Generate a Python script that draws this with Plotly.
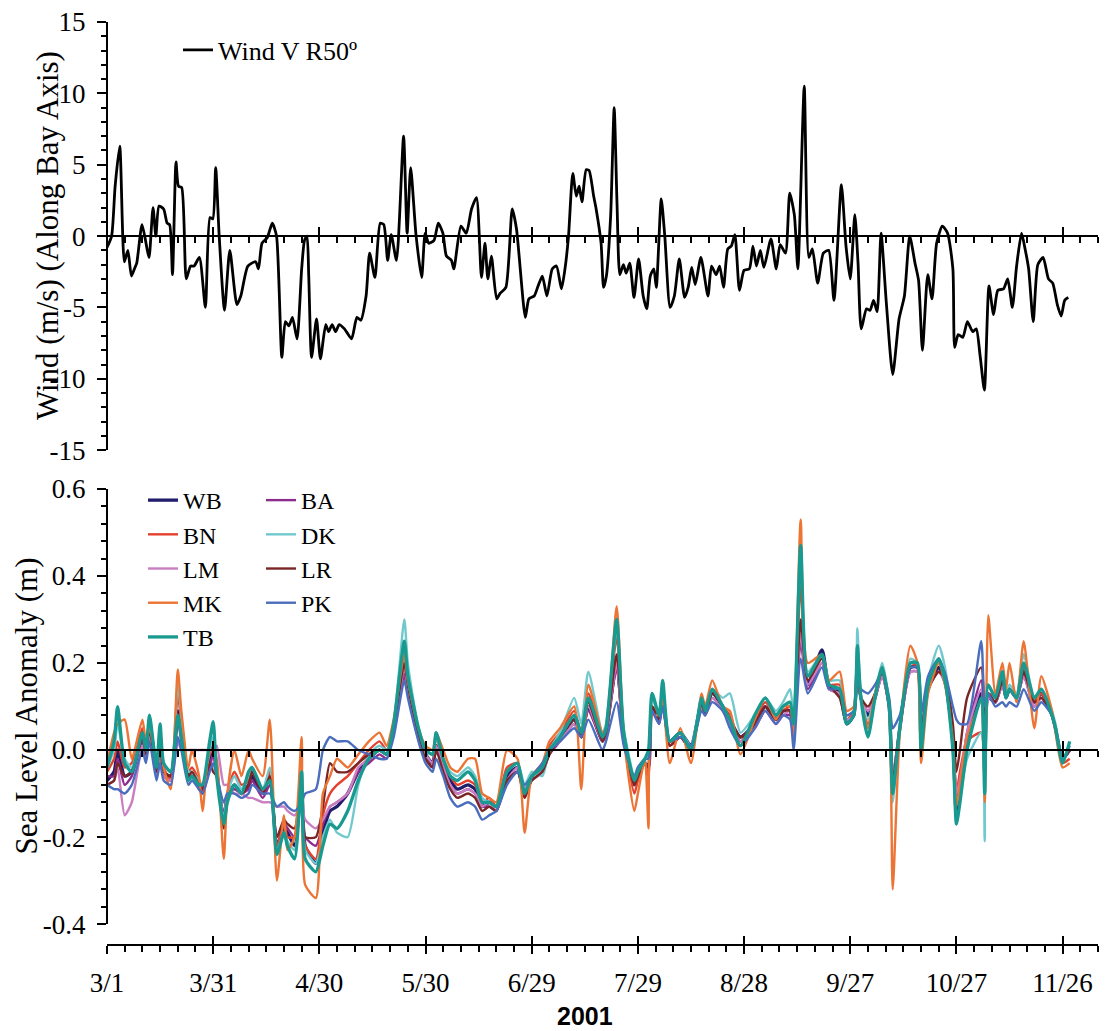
import plotly.graph_objects as go

# Along-bay wind component V rotated 50 deg (m/s): (days since 1 March 2001, value)
wind_points = [
    (0.0, -0.8), (1.3, 0.0), (2.3, 3.5), (3.6, 6.3), (4.9, -1.8), (5.9, -1.0), (6.9, -2.8), (7.9, -2.2),
    (8.4, -1.9), (9.9, 0.8), (11.4, -1.0), (11.9, -1.5), (13.0, 2.0), (13.8, 0.0), (14.7, 2.1), (16.0, 1.9),
    (17.0, 0.9), (17.7, 0.8), (18.5, -2.7), (19.5, 5.2), (20.2, 3.5), (21.1, 3.4), (22.4, -3.0), (23.6, -2.1),
    (24.6, -2.1), (26.1, -1.5), (27.8, -5.0), (29.1, 1.3), (29.9, 1.2), (30.7, 4.8), (31.7, 0.0), (33.2, -5.2),
    (34.7, -1.0), (36.7, -4.8), (37.8, -4.2), (39.8, -2.1), (42.0, -1.8), (42.8, -2.3), (43.8, -0.5), (45.3, -0.1),
    (46.7, 0.9), (47.9, 0.0), (49.4, -8.5), (50.4, -6.0), (51.4, -6.3), (52.4, -5.7), (53.7, -7.2), (55.0, -2.3),
    (55.8, -0.3), (56.5, 0.0), (57.0, -2.8), (57.8, -8.5), (59.2, -5.8), (60.3, -8.6), (61.8, -6.2), (62.6, -6.7),
    (63.6, -6.2), (64.6, -6.7), (65.6, -6.2), (67.1, -6.5), (69.1, -7.2), (70.6, -5.7), (71.7, -5.9), (73.2, -4.2),
    (74.2, -1.2), (75.7, -2.9), (77.2, 0.9), (78.2, 0.8), (79.3, -1.7), (80.3, 0.1), (81.8, -1.7), (83.8, 7.0),
    (84.8, 0.2), (85.8, 4.8), (87.3, 0.1), (88.9, -2.9), (89.9, 0.2), (90.9, -0.5), (92.4, -0.3), (93.6, 0.9),
    (94.9, 0.2), (95.9, -1.4), (97.3, -1.7), (98.0, -2.3), (100.0, 0.7), (101.5, 0.2), (103.0, 1.9), (104.4, 2.7),
    (105.8, -2.9), (106.8, -0.5), (107.6, -3.0), (108.6, -1.4), (110.1, -4.4), (111.1, -4.0), (112.7, -3.6), (114.5, 1.9),
    (115.7, 0.5), (118.2, -5.7), (119.2, -4.4), (120.7, -4.2), (121.8, -3.5), (123.0, -2.8), (124.3, -4.2), (125.8, -2.3),
    (127.0, -2.1), (128.4, -3.7), (129.4, -2.3), (130.4, 0.0), (131.6, 4.4), (132.6, 2.8), (133.4, 3.5), (134.2, 2.4),
    (135.4, 4.65), (136.2, 4.6), (137.5, 2.8), (138.2, 1.9), (139.6, -0.5), (140.3, -3.6), (141.1, -2.8), (142.3, 1.4),
    (143.3, 9.0), (144.1, 2.3), (144.9, -2.7), (145.9, -2.0), (146.7, -2.6), (147.7, -1.9), (148.9, -4.3), (150.2, -1.6),
    (151.5, -4.2), (152.5, -5.1), (153.5, -2.8), (154.5, -2.3), (155.2, -3.6), (156.6, 2.6), (157.6, 0.0), (159.1, -5.0),
    (160.3, -4.2), (161.7, -1.6), (163.2, -4.3), (164.2, -3.6), (165.2, -2.2), (166.2, -3.4), (167.8, -1.5), (169.8, -4.2),
    (170.8, -2.1), (172.1, -2.7), (173.1, -2.1), (174.2, -3.6), (175.4, -0.9), (176.4, -0.7), (177.4, 0.1), (178.7, -3.8),
    (180.0, -2.4), (181.5, -2.3), (182.5, -0.7), (183.5, -2.1), (184.6, -1.0), (185.6, -2.2), (187.6, -0.2), (189.1, -2.3),
    (190.2, -0.6), (191.7, -1.2), (192.9, 3.0), (194.2, 1.5), (195.2, -2.3), (197.0, 10.5), (198.3, -1.5), (199.3, -0.9),
    (200.8, -3.3), (202.4, -1.2), (203.9, -1.0), (205.4, -4.5), (207.5, 3.6), (208.8, -0.7), (210.0, -3.0), (211.3, 1.5),
    (212.2, -1.9), (213.1, -6.5), (214.6, -5.1), (215.6, -5.2), (216.6, -4.5), (217.6, -5.3), (218.7, 0.2), (220.2, -4.7),
    (222.0, -9.7), (223.8, -5.8), (225.3, -4.2), (226.8, 0.0), (228.3, -1.9), (229.3, -3.1), (230.4, -8.0), (231.9, -2.7),
    (233.1, -4.4), (234.4, -0.5), (236.0, 0.7), (237.5, 0.2), (239.0, -2.3), (239.5, -7.8), (240.5, -6.9), (241.8, -7.1),
    (243.1, -6.0), (244.6, -6.7), (245.6, -6.5), (246.7, -8.4), (247.9, -10.8), (249.2, -3.5), (250.5, -5.5), (251.7, -3.8),
    (253.3, -3.7), (254.5, -3.0), (255.8, -5.0), (257.0, -2.1), (258.4, 0.2), (259.4, -0.9), (260.4, -2.3), (261.7, -6.0),
    (263.0, -2.0), (264.5, -1.5), (266.0, -3.0), (267.2, -3.3), (268.5, -4.8), (269.6, -5.6), (270.6, -4.5), (271.6, -4.3),
]

# Sea level anomaly (m) at nine tide stations, sampled on a common set of days since 1 March 2001
sla_day = [
    0, 2, 3, 5, 7, 10, 11, 12, 14, 15,
    16, 18, 20, 21, 23, 24, 26, 27, 29, 30,
    31, 33, 34, 36, 38, 40, 41, 44, 46, 48,
    50, 51, 53, 55, 56, 59, 61, 63, 65, 68,
    71, 74, 77, 79, 81, 84, 85, 88, 90, 92,
    93, 95, 97, 99, 102, 104, 106, 108, 110, 113,
    116, 118, 120, 123, 125, 128, 132, 134, 136, 140,
    141, 144, 146, 149, 150, 152, 153, 154, 156, 157,
    159, 162, 165, 168, 169, 171, 174, 176, 179, 183,
    186, 189, 191, 193, 194, 196, 198, 202, 204, 207,
    209, 211, 212, 213, 215, 217, 219, 221, 222, 224,
    227, 229, 230, 232, 235, 237, 239, 240, 241, 243,
    247, 248, 249, 251, 253, 254, 255, 257, 259, 262,
    264, 267, 268, 270, 272,
]

sla_WB = [
    -0.07, -0.05, 0.00, -0.06, -0.05, 0.03, -0.01, 0.05, -0.05, 0.03,
    -0.05, -0.06, 0.09, 0.04, -0.06, -0.06, -0.08, -0.09, -0.02, 0.01,
    -0.05, -0.16, -0.11, -0.08, -0.10, -0.08, -0.06, -0.10, -0.06, -0.22,
    -0.18, -0.19, -0.22, -0.08, -0.22, -0.26, -0.19, -0.14, -0.13, -0.10,
    -0.05, -0.02, 0.00, -0.01, 0.05, 0.18, 0.14, 0.03, -0.01, -0.03,
    0.01, -0.04, -0.07, -0.09, -0.08, -0.09, -0.13, -0.12, -0.13, -0.06,
    -0.04, -0.10, -0.06, -0.04, 0.00, 0.03, 0.07, 0.03, 0.10, 0.02,
    0.04, 0.20, 0.03, -0.08, -0.06, -0.03, -0.04, 0.10, 0.07, 0.12,
    0.02, 0.04, 0.01, 0.11, 0.09, 0.13, 0.10, 0.07, 0.03, 0.06,
    0.10, 0.07, 0.09, 0.09, 0.05, 0.29, 0.15, 0.23, 0.15, 0.13,
    0.06, 0.08, 0.20, 0.12, 0.08, 0.12, 0.18, 0.10, -0.08, 0.05,
    0.19, 0.19, 0.03, 0.14, 0.19, 0.15, 0.02, -0.15, -0.10, 0.03,
    0.13, -0.05, 0.12, 0.11, 0.16, 0.12, 0.14, 0.12, 0.18, 0.11,
    0.13, 0.08, 0.05, -0.02, 0.00,
]
sla_BA = [
    -0.06, -0.06, -0.02, -0.08, -0.06, 0.02, -0.02, 0.04, -0.06, 0.01,
    -0.06, -0.07, 0.07, 0.02, -0.07, -0.06, -0.09, -0.10, -0.04, -0.01,
    -0.06, -0.15, -0.10, -0.09, -0.10, -0.09, -0.07, -0.11, -0.08, -0.20,
    -0.17, -0.18, -0.20, -0.10, -0.20, -0.22, -0.17, -0.13, -0.12, -0.10,
    -0.05, -0.03, -0.01, -0.02, 0.04, 0.17, 0.13, 0.03, -0.02, -0.04,
    0.00, -0.04, -0.08, -0.10, -0.09, -0.10, -0.13, -0.13, -0.14, -0.07,
    -0.05, -0.10, -0.07, -0.05, -0.01, 0.02, 0.06, 0.03, 0.09, 0.02,
    0.04, 0.19, 0.02, -0.08, -0.06, -0.03, -0.04, 0.09, 0.06, 0.11,
    0.01, 0.03, 0.00, 0.10, 0.08, 0.12, 0.09, 0.06, 0.02, 0.05,
    0.09, 0.06, 0.08, 0.08, 0.04, 0.25, 0.14, 0.20, 0.14, 0.13,
    0.07, 0.08, 0.18, 0.12, 0.09, 0.12, 0.17, 0.10, -0.06, 0.05,
    0.18, 0.18, 0.04, 0.14, 0.18, 0.15, 0.03, -0.12, -0.08, 0.04,
    0.16, 0.00, 0.12, 0.11, 0.15, 0.12, 0.14, 0.12, 0.17, 0.10,
    0.12, 0.08, 0.05, -0.02, 0.00,
]
sla_BN = [
    -0.05, -0.02, 0.02, -0.04, -0.03, 0.05, 0.00, 0.06, -0.04, 0.04,
    -0.04, -0.07, 0.13, 0.06, -0.05, -0.04, -0.07, -0.10, -0.01, 0.00,
    -0.04, -0.18, -0.10, -0.05, -0.08, -0.07, -0.04, -0.10, -0.05, -0.22,
    -0.17, -0.20, -0.20, -0.06, -0.22, -0.25, -0.15, -0.10, -0.08, -0.06,
    -0.03, 0.00, 0.02, 0.00, 0.06, 0.22, 0.16, 0.04, 0.00, -0.01,
    0.03, -0.03, -0.06, -0.08, -0.07, -0.08, -0.12, -0.11, -0.13, -0.04,
    -0.03, -0.11, -0.06, -0.04, 0.01, 0.04, 0.09, 0.04, 0.13, 0.03,
    0.05, 0.26, 0.04, -0.10, -0.07, -0.03, -0.06, 0.10, 0.08, 0.13,
    0.01, 0.04, 0.00, 0.12, 0.09, 0.14, 0.10, 0.08, 0.02, 0.07,
    0.11, 0.08, 0.09, 0.10, 0.05, 0.38, 0.17, 0.21, 0.15, 0.15,
    0.07, 0.09, 0.22, 0.12, 0.06, 0.12, 0.18, 0.10, -0.10, 0.05,
    0.20, 0.19, 0.02, 0.15, 0.20, 0.16, 0.04, -0.10, -0.05, 0.02,
    0.04, -0.06, 0.13, 0.12, 0.17, 0.12, 0.14, 0.12, 0.19, 0.11,
    0.13, 0.08, 0.05, -0.03, -0.02,
]
sla_DK = [
    -0.04, 0.00, 0.06, -0.02, -0.04, 0.04, 0.00, 0.07, -0.03, 0.05,
    -0.03, -0.05, 0.15, 0.08, -0.05, -0.05, -0.07, -0.08, 0.00, 0.03,
    -0.04, -0.16, -0.10, -0.06, -0.09, -0.06, -0.05, -0.09, -0.04, -0.23,
    -0.19, -0.21, -0.23, -0.05, -0.23, -0.26, -0.20, -0.16, -0.19, -0.20,
    -0.08, -0.01, 0.01, 0.00, 0.06, 0.30, 0.20, 0.05, 0.00, -0.01,
    0.03, -0.02, -0.05, -0.06, -0.04, -0.06, -0.11, -0.12, -0.13, -0.05,
    -0.03, -0.08, -0.05, -0.06, 0.00, 0.04, 0.12, 0.06, 0.18, 0.04,
    0.06, 0.28, 0.05, -0.06, -0.04, -0.02, -0.02, 0.12, 0.08, 0.15,
    0.02, 0.04, 0.01, 0.12, 0.10, 0.14, 0.12, 0.13, 0.04, 0.08,
    0.12, 0.09, 0.11, 0.14, 0.08, 0.45, 0.18, 0.22, 0.16, 0.16,
    0.08, 0.09, 0.28, 0.13, 0.07, 0.13, 0.20, 0.11, -0.12, 0.06,
    0.21, 0.20, 0.02, 0.16, 0.24, 0.18, 0.02, -0.12, -0.10, -0.02,
    0.04, -0.21, 0.12, 0.12, 0.18, 0.13, 0.15, 0.13, 0.22, 0.12,
    0.14, 0.09, 0.06, -0.02, 0.01,
]
sla_LM = [
    -0.08, -0.07, -0.04, -0.15, -0.12, 0.01, -0.02, 0.03, -0.06, 0.00,
    -0.06, -0.07, 0.02, 0.00, 0.00, 0.00, 0.00, 0.00, 0.00, 0.00,
    0.01, -0.08, -0.08, -0.10, -0.10, -0.11, -0.11, -0.12, -0.12, -0.13,
    -0.13, -0.14, -0.15, -0.13, -0.16, -0.18, -0.16, -0.13, -0.12, -0.10,
    -0.04, -0.02, 0.00, -0.01, 0.04, 0.19, 0.14, 0.03, -0.01, -0.03,
    0.01, -0.04, -0.08, -0.10, -0.09, -0.10, -0.13, -0.12, -0.14, -0.07,
    -0.04, -0.09, -0.06, -0.04, 0.00, 0.02, 0.06, 0.03, 0.10, 0.02,
    0.04, 0.20, 0.02, -0.07, -0.05, -0.03, -0.04, 0.09, 0.07, 0.11,
    0.02, 0.03, 0.01, 0.10, 0.08, 0.12, 0.09, 0.06, 0.02, 0.05,
    0.09, 0.06, 0.08, 0.09, 0.05, 0.27, 0.15, 0.20, 0.14, 0.13,
    0.07, 0.08, 0.18, 0.12, 0.09, 0.12, 0.17, 0.10, -0.06, 0.05,
    0.18, 0.18, 0.04, 0.14, 0.18, 0.15, 0.03, -0.10, -0.07, 0.04,
    0.14, -0.06, 0.12, 0.11, 0.15, 0.12, 0.14, 0.12, 0.17, 0.10,
    0.12, 0.08, 0.05, -0.02, 0.00,
]
sla_LR = [
    -0.08, -0.07, -0.03, -0.06, -0.05, 0.03, -0.01, 0.05, -0.05, 0.02,
    -0.05, -0.06, 0.08, 0.03, -0.06, -0.05, -0.08, -0.09, -0.03, -0.05,
    -0.06, -0.18, -0.12, -0.08, -0.10, -0.08, -0.05, -0.10, -0.06, -0.20,
    -0.16, -0.17, -0.18, -0.08, -0.20, -0.20, -0.13, -0.03, -0.05, -0.05,
    -0.03, -0.01, 0.00, -0.01, 0.05, 0.20, 0.15, 0.03, -0.02, -0.04,
    0.00, -0.05, -0.09, -0.11, -0.10, -0.11, -0.14, -0.13, -0.14, -0.07,
    -0.05, -0.11, -0.07, -0.05, -0.01, 0.03, 0.07, 0.03, 0.11, 0.02,
    0.04, 0.22, 0.03, -0.08, -0.06, -0.03, -0.04, 0.10, 0.07, 0.12,
    0.01, 0.03, 0.00, 0.11, 0.08, 0.13, 0.10, 0.07, 0.03, 0.06,
    0.10, 0.07, 0.09, 0.09, 0.05, 0.30, 0.16, 0.21, 0.15, 0.12,
    0.06, 0.08, 0.19, 0.12, 0.10, 0.13, 0.18, 0.10, -0.07, 0.05,
    0.19, 0.19, 0.04, 0.14, 0.18, 0.16, 0.06, -0.05, 0.00, 0.12,
    0.19, 0.05, 0.13, 0.11, 0.16, 0.12, 0.14, 0.12, 0.18, 0.11,
    0.12, 0.08, 0.05, -0.02, 0.00,
]
sla_MK = [
    -0.03, 0.04, 0.06, 0.07, -0.02, 0.07, 0.02, 0.05, -0.02, 0.03,
    -0.04, -0.09, 0.185, 0.09, -0.04, 0.00, -0.06, -0.14, 0.00, 0.00,
    -0.02, -0.25, -0.10, 0.00, -0.06, 0.00, -0.02, -0.06, 0.07, -0.30,
    -0.15, -0.23, -0.20, 0.03, -0.31, -0.34, -0.10, -0.06, -0.02, -0.04,
    -0.01, 0.02, 0.04, 0.01, 0.07, 0.22, 0.16, 0.05, 0.01, 0.00,
    0.04, 0.00, -0.04, -0.05, -0.02, -0.02, -0.10, -0.11, -0.12, 0.00,
    -0.02, -0.19, -0.06, -0.03, 0.02, 0.05, 0.10, -0.09, 0.15, 0.04,
    0.05, 0.33, 0.03, -0.14, -0.10, -0.02, -0.18, 0.08, 0.08, 0.12,
    -0.03, 0.05, -0.03, 0.13, 0.10, 0.16, 0.10, 0.09, -0.01, 0.07,
    0.12, 0.07, 0.10, 0.10, 0.03, 0.53, 0.20, 0.22, 0.16, 0.18,
    0.09, 0.10, 0.22, 0.12, 0.05, 0.13, 0.19, 0.10, -0.32, 0.04,
    0.24, 0.20, -0.03, 0.13, 0.20, 0.14, 0.02, -0.13, -0.08, 0.03,
    0.11, -0.12, 0.31, 0.13, 0.20, 0.14, 0.20, 0.11, 0.25, 0.05,
    0.17, 0.09, 0.04, -0.04, -0.03,
]
sla_PK = [
    -0.08, -0.09, -0.09, -0.10, -0.08, 0.00, -0.03, 0.02, -0.07, -0.03,
    -0.07, -0.08, 0.03, 0.00, -0.08, -0.07, -0.09, -0.10, -0.05, -0.03,
    -0.06, -0.12, -0.10, -0.10, -0.11, -0.10, -0.08, -0.10, -0.10, -0.13,
    -0.12, -0.13, -0.14, -0.12, -0.10, -0.09, 0.00, 0.03, 0.02, 0.02,
    0.00, -0.01, -0.02, -0.02, 0.03, 0.16, 0.12, 0.02, -0.03, -0.05,
    -0.02, -0.06, -0.11, -0.13, -0.12, -0.13, -0.16, -0.15, -0.14, -0.08,
    -0.05, -0.08, -0.06, -0.03, 0.00, 0.02, 0.05, 0.03, 0.07, 0.00,
    0.02, 0.11, 0.01, -0.06, -0.04, -0.02, -0.02, 0.09, 0.06, 0.10,
    0.02, 0.03, 0.01, 0.09, 0.08, 0.11, 0.09, 0.05, 0.01, 0.05,
    0.09, 0.06, 0.08, 0.07, 0.00, 0.21, 0.13, 0.19, 0.14, 0.14,
    0.08, 0.09, 0.16, 0.14, 0.13, 0.15, 0.18, 0.12, 0.05, 0.08,
    0.19, 0.19, 0.08, 0.17, 0.21, 0.17, 0.10, 0.07, 0.06, 0.06,
    0.25, 0.10, 0.13, 0.10, 0.11, 0.10, 0.11, 0.10, 0.14, 0.09,
    0.11, 0.08, 0.05, -0.02, 0.01,
]
sla_TB = [
    -0.04, 0.02, 0.10, -0.03, -0.05, 0.04, 0.00, 0.08, -0.04, 0.06,
    -0.03, -0.05, 0.08, 0.03, -0.07, -0.06, -0.08, -0.08, 0.02, 0.065,
    -0.06, -0.17, -0.12, -0.08, -0.10, -0.05, -0.04, -0.09, -0.07, -0.24,
    -0.19, -0.22, -0.25, -0.05, -0.25, -0.28, -0.22, -0.17, -0.18, -0.14,
    -0.07, -0.02, 0.00, -0.01, 0.06, 0.25, 0.17, 0.05, 0.00, -0.01,
    0.04, -0.02, -0.06, -0.07, -0.05, -0.07, -0.12, -0.12, -0.13, -0.05,
    -0.03, -0.10, -0.06, -0.04, 0.00, 0.03, 0.08, 0.04, 0.12, 0.03,
    0.05, 0.30, 0.04, -0.07, -0.05, -0.02, 0.00, 0.13, 0.08, 0.16,
    0.02, 0.04, 0.00, 0.12, 0.09, 0.14, 0.10, 0.07, 0.01, 0.08,
    0.12, 0.08, 0.10, 0.11, 0.06, 0.47, 0.17, 0.22, 0.15, 0.14,
    0.06, 0.08, 0.24, 0.12, 0.03, 0.12, 0.19, 0.10, -0.10, 0.05,
    0.20, 0.20, 0.00, 0.15, 0.21, 0.15, 0.00, -0.17, -0.12, 0.00,
    0.12, -0.10, 0.15, 0.12, 0.18, 0.12, 0.14, 0.12, 0.20, 0.12,
    0.14, 0.08, 0.05, -0.03, 0.02,
]

stations = ["WB", "BA", "BN", "DK", "LM", "LR", "MK", "PK", "TB"]
sla_series = {
    "WB": sla_WB, "BA": sla_BA, "BN": sla_BN, "DK": sla_DK, "LM": sla_LM,
    "LR": sla_LR, "MK": sla_MK, "PK": sla_PK, "TB": sla_TB,
}
station_colors = {
    "WB": "#221d6b", "BA": "#8c2d8e", "BN": "#e4412e", "DK": "#72c9cd", "LM": "#c97ec2",
    "LR": "#7a2626", "MK": "#ec7434", "PK": "#4b6dbd", "TB": "#189a90",
}
first_column = ["WB", "BN", "LM", "MK", "TB"]

month_days = [0, 30, 60, 90, 120, 150, 180, 210, 240, 270]
month_labels = ["3/1", "3/31", "4/30", "5/30", "6/29", "7/29", "8/28", "9/27", "10/27", "11/26"]
wind_ticks = [-15, -10, -5, 0, 5, 10, 15]
wind_labels = ["-15", "-10", "-5", "0", "5", "10", "15"]
sla_ticks = [-0.4, -0.2, 0.0, 0.2, 0.4, 0.6]
sla_labels = ["-0.4", "-0.2", "0.0", "0.2", "0.4", "0.6"]

# ---------------- page geometry ----------------
W, H = 1105, 1031
MARGIN = dict(l=107, r=7, t=18, b=86)
PLOT_W = W - MARGIN["l"] - MARGIN["r"]
PLOT_H = H - MARGIN["t"] - MARGIN["b"]


def paper_y(px):
    return (H - MARGIN["b"] - px) / PLOT_H


def paper_x(px):
    return (px - MARGIN["l"]) / PLOT_W


TOP = [paper_y(448), 1.0]
BOT = [paper_y(924), paper_y(487)]
WIND_RANGE = [-15, 15]
SLA_RANGE = [-0.4, 0.6]
X_RANGE = [0, 280]
top_zero = TOP[0] + (0 - WIND_RANGE[0]) / (WIND_RANGE[1] - WIND_RANGE[0]) * (TOP[1] - TOP[0])
bot_zero = BOT[0] + (0 - SLA_RANGE[0]) / (SLA_RANGE[1] - SLA_RANGE[0]) * (BOT[1] - BOT[0])

SERIF = "Liberation Serif, Times New Roman, serif"
SANS = "Liberation Sans, Arial, sans-serif"
TICKFONT = dict(family=SERIF, size=27, color="black")

fig = go.Figure()

# wind trace
fig.add_trace(go.Scatter(
    x=[p[0] for p in wind_points], y=[p[1] for p in wind_points],
    mode="lines", name="Wind V R50º",
    line=dict(color="black", width=2.8, shape="spline", smoothing=0.6),
    xaxis="x", yaxis="y", legend="legend", hoverinfo="skip",
))

# sea level traces
for st in stations:
    fig.add_trace(go.Scatter(
        x=sla_day, y=sla_series[st], mode="lines", name=st,
        line=dict(color=station_colors[st], width=3.3 if st in ("WB", "TB") else 2.4,
                  shape="spline", smoothing=0.6),
        xaxis="x2", yaxis="y2",
        legend="legend2" if st in first_column else "legend3",
        hoverinfo="skip",
    ))

# hidden traces attached to the overlay axes that carry the extra month ticks
for xa, ya in (("x3", "y"), ("x4", "y2"), ("x5", "y2"), ("x6", "y2")):
    fig.add_trace(go.Scatter(x=[X_RANGE[0] - 10], y=[0], xaxis=xa, yaxis=ya, mode="markers",
                             marker=dict(opacity=0), showlegend=False, hoverinfo="skip"))

AX = dict(showgrid=False, zeroline=False, linecolor="black", linewidth=2,
          tickcolor="black", tickwidth=2, fixedrange=True, range=X_RANGE)
MINOR_X = dict(tickmode="linear", tick0=0, dtick=5, ticks="outside",
               ticklen=6, tickwidth=1.5, tickcolor="black")


def x_ticks_down(pos, labels=False, **kw):
    d = dict(AX, anchor="free", position=pos, showline=True,
             tickmode="array", tickvals=month_days, ticks="outside", ticklen=8,
             showticklabels=labels, minor=MINOR_X)
    d.update(kw)
    return d


def x_ticks_up(over, pos):
    return dict(AX, overlaying=over, anchor="free", position=pos, showline=False,
                tickmode="array", tickvals=month_days, ticks="inside", ticklen=9,
                showticklabels=False)


Y_AX = dict(showgrid=False, zeroline=False, linecolor="black", linewidth=2,
            tickcolor="black", tickwidth=2, fixedrange=True, anchor="free", position=0,
            showline=True, ticks="outside", ticklen=9, tickmode="array",
            tickfont=TICKFONT, ticklabelstandoff=6)

LEG = dict(xanchor="left", bgcolor="rgba(0,0,0,0)", borderwidth=0,
           font=dict(family=SERIF, size=24, color="black"), tracegroupgap=0,
           itemwidth=30)

fig.update_layout(
    width=W, height=H, margin=MARGIN,
    paper_bgcolor="white", plot_bgcolor="white",
    xaxis=x_ticks_down(top_zero, ticklen=6),
    xaxis3=x_ticks_up("x", top_zero),
    xaxis2=x_ticks_down(0, labels=True, ticktext=month_labels, tickfont=TICKFONT,
                        ticklabelstandoff=6),
    xaxis4=x_ticks_up("x2", 0),
    xaxis5=x_ticks_down(bot_zero, ticklen=6, overlaying="x2"),
    xaxis6=x_ticks_up("x2", bot_zero),
    yaxis=dict(Y_AX, domain=TOP, range=WIND_RANGE, tickvals=wind_ticks, ticktext=wind_labels,
               minor=dict(tickmode="linear", tick0=-15, dtick=1, ticks="outside",
                          ticklen=5, tickwidth=1.5, tickcolor="black")),
    yaxis2=dict(Y_AX, domain=BOT, range=SLA_RANGE, tickvals=sla_ticks, ticktext=sla_labels,
                minor=dict(tickmode="linear", tick0=-0.4, dtick=0.04, ticks="outside",
                           ticklen=5, tickwidth=1.5, tickcolor="black")),
    legend=dict(LEG, x=paper_x(178), y=paper_y(46), yanchor="middle",
                font=dict(family=SERIF, size=26, color="black")),
    legend2=dict(LEG, x=paper_x(143), y=paper_y(476), yanchor="top"),
    legend3=dict(LEG, x=paper_x(261), y=paper_y(476), yanchor="top"),
    annotations=[
        dict(text="Wind (m/s) (Along Bay Axis)", textangle=-90, showarrow=False,
             xref="paper", yref="paper", x=paper_x(47), y=(TOP[0] + TOP[1]) / 2,
             xanchor="center", yanchor="middle",
             font=dict(family=SERIF, size=31, color="black")),
        dict(text="Sea Level Anomaly (m)", textangle=-90, showarrow=False,
             xref="paper", yref="paper", x=paper_x(27), y=(BOT[0] + BOT[1]) / 2,
             xanchor="center", yanchor="middle",
             font=dict(family=SERIF, size=31, color="black")),
        dict(text="2001", showarrow=False, xref="paper", yref="paper",
             x=paper_x(585), y=paper_y(1016), xanchor="center", yanchor="middle",
             font=dict(family=SANS, size=25, color="black", weight="bold")),
    ],
)

fig.write_html("out.html")
